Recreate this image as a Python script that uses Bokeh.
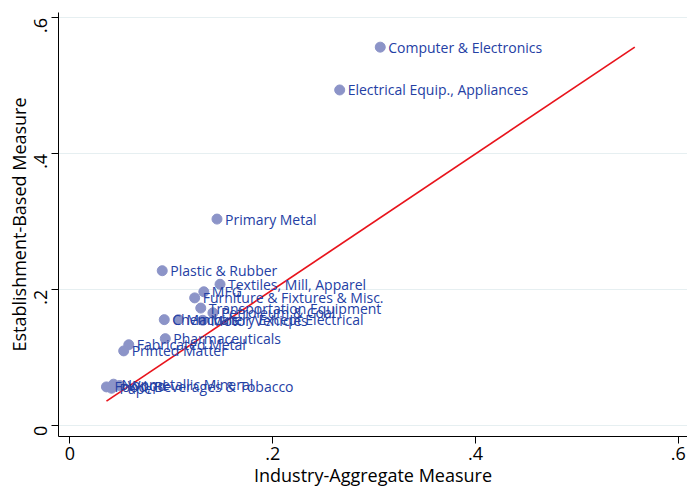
import math
import numpy as np
from bokeh.plotting import figure
from bokeh.models import ColumnDataSource, FixedTicker
from bokeh.core.properties import value
from bokeh.embed import file_html
from bokeh.resources import INLINE

# Manufacturing industries: aggregate vs establishment-based measures
industries = [
    "Computer & Electronics",
    "Electrical Equip., Appliances",
    "Primary Metal",
    "Plastic & Rubber",
    "Textiles, Mill, Apparel",
    "MFG",
    "Furniture & Fixtures & Misc.",
    "Transportation Equipment",
    "Petroleum & Coal",
    "Motor Vehicles",
    "Chemicals",
    "Machinery Except Electrical",
    "Pharmaceuticals",
    "Fabricated Metal",
    "Printed Matter",
    "Food, Beverages & Tobacco",
    "Paper",
    "Nonmetallic Mineral",
    "Wood",
]
industry_aggregate = [0.306, 0.266, 0.145, 0.091, 0.148, 0.132, 0.123, 0.129,
                      0.141, 0.131, 0.093, 0.107, 0.094, 0.058, 0.053,
                      0.036, 0.041, 0.043, 0.049]
establishment_based = [0.557, 0.494, 0.304, 0.228, 0.208, 0.197, 0.188, 0.173,
                       0.166, 0.155, 0.156, 0.156, 0.128, 0.119, 0.110,
                       0.057, 0.055, 0.061, 0.059]

tick_values = [0, 0.2, 0.4, 0.6]
tick_labels = ["0", ".2", ".4", ".6"]

FONT = "Open Sans"
MARKER = "#8c94c8"
LABEL = "#2440a4"

src = ColumnDataSource(dict(x=industry_aggregate, y=establishment_based, name=industries))

p = figure(width=687, height=489, output_backend="svg", toolbar_location=None,
           x_range=(-0.0113, 0.609), y_range=(-0.016, 0.608),
           min_border_left=58, min_border_right=0, min_border_top=12, min_border_bottom=48)
p.outline_line_color = None
p.background_fill_color = "white"
p.border_fill_color = "white"

# 45-degree reference line spanning the observed range
lo = min(min(industry_aggregate), min(establishment_based))
hi = max(max(industry_aggregate), max(establishment_based))
p.line([lo, hi], [lo, hi], line_color="#e8141c", line_width=1.7)

p.scatter("x", "y", source=src, size=10, fill_color=MARKER, line_color=MARKER)
p.text("x", "y", text="name", source=src, x_offset=8, text_baseline="middle",
       text_align="left", text_font=value(FONT), text_font_size="14px",
       text_color=LABEL)

for ax in (p.xaxis[0], p.yaxis[0]):
    ax.ticker = FixedTicker(ticks=tick_values)
    ax.major_label_overrides = {v: s for v, s in zip(tick_values, tick_labels)}
    ax.axis_line_color = "black"
    ax.axis_line_width = 1
    ax.major_tick_line_color = "black"
    ax.major_tick_out = 7
    ax.major_tick_in = 0
    ax.minor_tick_line_color = None
    ax.major_label_text_font = FONT
    ax.major_label_text_font_size = "18px"
    ax.major_label_text_color = "black"
    ax.axis_label_text_font = FONT
    ax.axis_label_text_font_size = "18px"
    ax.axis_label_text_font_style = "normal"
    ax.axis_label_text_color = "black"
    ax.axis_label_standoff = 0
    ax.major_label_standoff = 3

p.xaxis.axis_label = "Industry-Aggregate Measure"
p.yaxis.axis_label = "Establishment-Based Measure"
p.yaxis.major_label_orientation = math.pi / 2
p.yaxis.major_label_standoff = 11
p.yaxis.axis_label_standoff = -6

p.xgrid.grid_line_color = None
p.ygrid.ticker = FixedTicker(ticks=tick_values)
p.ygrid.grid_line_color = "#e6eff1"
p.ygrid.grid_line_width = 1

open("out.html", "w").write(file_html(p, INLINE))
